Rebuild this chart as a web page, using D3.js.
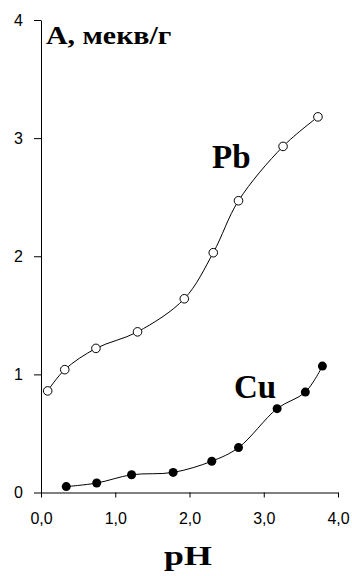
<!DOCTYPE html>
<html>
<head>
<meta charset="utf-8">
<script src="https://cdn.jsdelivr.net/npm/d3@7"></script>
<style>
  html, body { margin: 0; padding: 0; background: #fff; }
  svg { display: block; }
</style>
</head>
<body>
<svg id="chart" width="352" height="576"></svg>
<script>
// Sorption capacity A (meq/g) versus pH for Pb and Cu
const pbPH = [0.09, 0.32, 0.74, 1.30, 1.93, 2.32, 2.66, 3.26, 3.73];
const pbA  = [0.86, 1.04, 1.22, 1.36, 1.64, 2.03, 2.47, 2.93, 3.18];
const cuPH = [0.34, 0.75, 1.22, 1.78, 2.30, 2.66, 3.18, 3.56, 3.79];
const cuA  = [0.05, 0.08, 0.15, 0.17, 0.265, 0.38, 0.71, 0.85, 1.07];
const xTicks = [0, 1, 2, 3, 4];
const yTicks = [0, 1, 2, 3, 4];

const svg = d3.select("#chart");
const x = d3.scaleLinear().domain([0, 4]).range([41, 338]);
const y = d3.scaleLinear().domain([0, 4]).range([492.5, 20]);

const fmt = d => d.toFixed(1).replace(".", ",");

// axes
const gx = svg.append("g")
  .attr("transform", `translate(0,${y(0)})`)
  .call(d3.axisBottom(x).tickValues(xTicks).tickFormat(fmt)
    .tickSize(5).tickSizeOuter(0).tickPadding(15));
const gy = svg.append("g")
  .attr("transform", `translate(${x(0)},0)`)
  .call(d3.axisLeft(y).tickValues(yTicks).tickFormat(d3.format("d"))
    .tickSize(7).tickSizeOuter(0).tickPadding(11));
[gx, gy].forEach(g => {
  g.selectAll("path, line").attr("stroke", "#000").attr("stroke-width", 1);
  g.selectAll("text").attr("fill", "#000")
    .style("font-family", "Arial, 'Liberation Sans', sans-serif")
    .style("font-size", "16px");
});

// curves through the measured points
const line = d3.line()
  .x(d => x(d[0]))
  .y(d => y(d[1]))
  .curve(d3.curveCatmullRom.alpha(0.5));

const pb = pbPH.map((v, i) => [v, pbA[i]]);
const cu = cuPH.map((v, i) => [v, cuA[i]]);

svg.append("path").datum(pb).attr("d", line)
  .attr("fill", "none").attr("stroke", "#000").attr("stroke-width", 1);
svg.append("path").datum(cu).attr("d", line)
  .attr("fill", "none").attr("stroke", "#000").attr("stroke-width", 1);

svg.append("g").selectAll("circle").data(pb).join("circle")
  .attr("cx", d => x(d[0])).attr("cy", d => y(d[1])).attr("r", 4.3)
  .attr("fill", "#fff").attr("stroke", "#000").attr("stroke-width", 1);
svg.append("g").selectAll("circle").data(cu).join("circle")
  .attr("cx", d => x(d[0])).attr("cy", d => y(d[1])).attr("r", 4.5)
  .attr("fill", "#000");

// labels (serif, bold; title and axis name drawn slightly widened)
const serif = "'Times New Roman', 'Liberation Serif', serif";
svg.append("text")
  .attr("transform", "translate(46,44) scale(1.15,1)")
  .style("font-family", serif).style("font-weight", "bold").style("font-size", "26px")
  .text("A, мекв/г");
svg.append("text").attr("x", 212).attr("y", 168)
  .style("font-family", serif).style("font-weight", "bold").style("font-size", "33px")
  .text("Pb");
svg.append("text").attr("x", 234).attr("y", 398)
  .style("font-family", serif).style("font-weight", "bold").style("font-size", "33px")
  .text("Cu");
svg.append("text")
  .attr("transform", "translate(164,565) scale(1.28,1)")
  .style("font-family", serif).style("font-weight", "bold").style("font-size", "28px")
  .text("pH");
</script>
</body>
</html>
